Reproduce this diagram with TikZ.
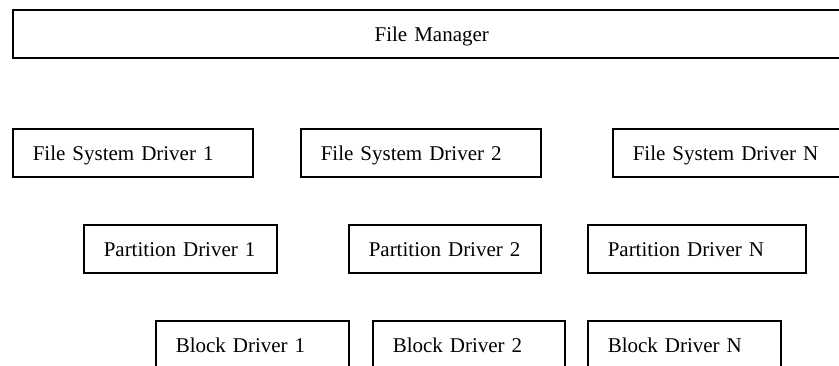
\documentclass[tikz,border=0pt]{standalone}
\usepackage{fontspec}
\setmainfont{Liberation Serif}
\begin{document}
\begin{tikzpicture}[x=1pt,y=-1pt,
  drvbox/.style={draw, line width=1.5pt, anchor=north west, minimum height=48pt,
    inner xsep=20pt, inner ysep=0pt, text height=16pt, text depth=0pt, align=left,
    font=\fontsize{21pt}{25pt}\selectfont},
  topbox/.style={drvbox, align=center}]
\useasboundingbox (0,0) rectangle (839,365);
\clip (0,0) rectangle (839,365);
\node[topbox, text width=798pt] (fm) at (12,9) {File Manager};
\node[drvbox, text width=200pt] (fs1) at (12,128) {File System Driver 1};
\node[drvbox, text width=200pt] (fs2) at (300,128) {File System Driver 2};
\node[drvbox, text width=200pt] (fsn) at (612,128) {File System Driver N};
\node[drvbox, text width=153pt] (pd1) at (83,224) {Partition Driver 1};
\node[drvbox, text width=152pt] (pd2) at (348,224) {Partition Driver 2};
\node[drvbox, text width=178pt] (pdn) at (587,224) {Partition Driver N};
\node[drvbox, text width=153pt] (bd1) at (155,320) {Block Driver 1};
\node[drvbox, text width=152pt] (bd2) at (372,320) {Block Driver 2};
\node[drvbox, text width=153pt] (bdn) at (587,320) {Block Driver N};
\end{tikzpicture}
\end{document}
